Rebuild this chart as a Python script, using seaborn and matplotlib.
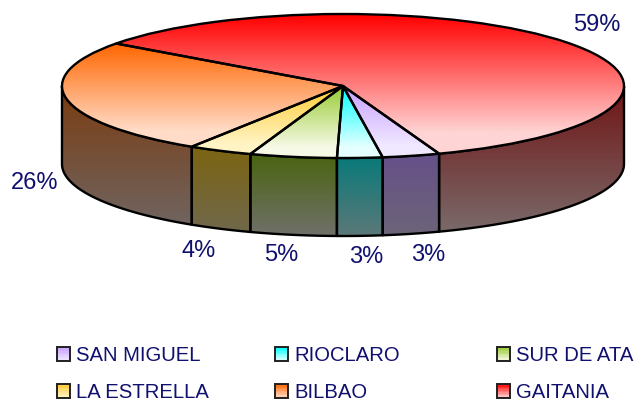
import numpy as np
import matplotlib
matplotlib.use("Agg")
import matplotlib.pyplot as plt
from matplotlib.patches import Polygon, Rectangle, Patch
from matplotlib.legend_handler import HandlerBase
import seaborn as sns

categories = ["SAN MIGUEL", "RIOCLARO", "SUR DE ATA", "LA ESTRELLA", "BILBAO", "GAITANIA"]
values = [3.3, 2.6, 5.0, 3.7, 26.0, 59.4]
value_labels = ["3%", "3%", "5%", "4%", "26%", "59%"]

top_colors = ["#C8A0FF", "#00FFFF", "#99CC33", "#FFCC33", "#FF6600", "#FF0000"]
low_colors = ["#F0E8FF", "#E4FFFF", "#F6F9E6", "#FFF4C4", "#FFDCC8", "#FFD4D4"]
wall_top = ["#66508A", "#0A7A7A", "#4A6410", "#7C6410", "#7A3C10", "#701414"]
wall_low = ["#6C6478", "#5C7878", "#70706A", "#70684C", "#706460", "#7A6A6A"]

# layout in pixels
W, H = 638, 404
CX, CY, RX, RY, DEPTH = 343, 86, 281, 72, 78
START = -70
LABEL_XY = [(428, 255), (366, 257), (281, 255), (199, 251), (35, 183), (597, 25)]
TEXT = "#10106E"
LEGEND_COLS = [(57, [0, 3]), (275, [1, 4]), (497, [2, 5])]
LINE = 1.7

sns.set_theme(style="white")
plt.rcParams["font.family"] = ["Liberation Sans", "DejaVu Sans"]

fig = plt.figure(figsize=(W / 100, H / 100), dpi=100)
ax = fig.add_axes([0, 0, 1, 1])

wedges, _ = ax.pie(values, startangle=START, counterclock=False, radius=1,
                   wedgeprops=dict(facecolor="none", edgecolor="black", linewidth=LINE, zorder=3))


def gradient(ax_, c1, c2, box, patch, z, hold=0):
    cols = list(sns.blend_palette([c1, c2], 128 - hold)) + [sns.blend_palette([c2, c2], 2)[0]] * hold
    cols = np.array(cols)[:, None, :]
    im = ax_.imshow(cols, extent=(box.x0, box.x1, box.y0, box.y1), origin="upper",
                    aspect="auto", interpolation="bilinear", zorder=z)
    im.set_clip_path(patch)


d = DEPTH / RY
for i, w in enumerate(wedges):
    # top face
    path = w.get_patch_transform().transform_path(w.get_path())
    gradient(ax, top_colors[i], low_colors[i], path.get_extents(), w, 2, hold=19)
    # side wall: the part of the arc facing the viewer
    for k in (0, -1):
        a0 = max(w.theta1, -180 + 360 * k)
        a1 = min(w.theta2, 0 + 360 * k)
        if a1 <= a0:
            continue
        t = np.radians(np.linspace(a0, a1, 80))
        xs, ys = np.cos(t), np.sin(t)
        pts = np.r_[np.c_[xs, ys], np.c_[xs[::-1], ys[::-1] - d]]
        poly = Polygon(pts, closed=True, facecolor="none", edgecolor="black",
                       linewidth=LINE, zorder=1.5, joinstyle="round")
        ax.add_patch(poly)
        gradient(ax, wall_top[i], wall_low[i], poly.get_path().get_extents(), poly, 1)

ax.set_aspect("auto")
ax.set_xlim((0 - CX) / RX, (W - CX) / RX)
ax.set_ylim((CY - H) / RY, CY / RY)
ax.axis("off")

for txt, (x, y) in zip(value_labels, LABEL_XY):
    fig.text(x / W, 1 - y / H, txt, color=TEXT, fontsize=17, ha="center", va="center")


class GradientSwatch(HandlerBase):
    def create_artists(self, legend, orig, xd, yd, width, height, fontsize, trans):
        c1, c2 = orig.grad
        n = 10
        cols = sns.blend_palette([c1, c2], n)
        arts = []
        for j, c in enumerate(cols):
            arts.append(Rectangle((-xd, -yd + height * (1 - (j + 1) / n)), width, height / n,
                                  facecolor=c, edgecolor="none", transform=trans))
        arts.append(Rectangle((-xd, -yd), width, height, facecolor="none",
                              edgecolor="#202020", linewidth=1.4, transform=trans))
        return arts


for x, idx in LEGEND_COLS:
    hs = []
    for i in idx:
        p = Patch(label=categories[i])
        p.grad = (top_colors[i], low_colors[i])
        hs.append(p)
    leg = fig.legend(handles=hs, loc="center left", bbox_to_anchor=(x / W, 1 - 374 / H),
                     bbox_transform=fig.transFigure, frameon=False, fontsize=14.6,
                     handlelength=0.65, handletextpad=0.3, labelspacing=0.88,
                     borderpad=0, borderaxespad=0, handler_map={Patch: GradientSwatch()},
                     labelcolor=TEXT)

fig.savefig("out.png", dpi=100, facecolor="white")
